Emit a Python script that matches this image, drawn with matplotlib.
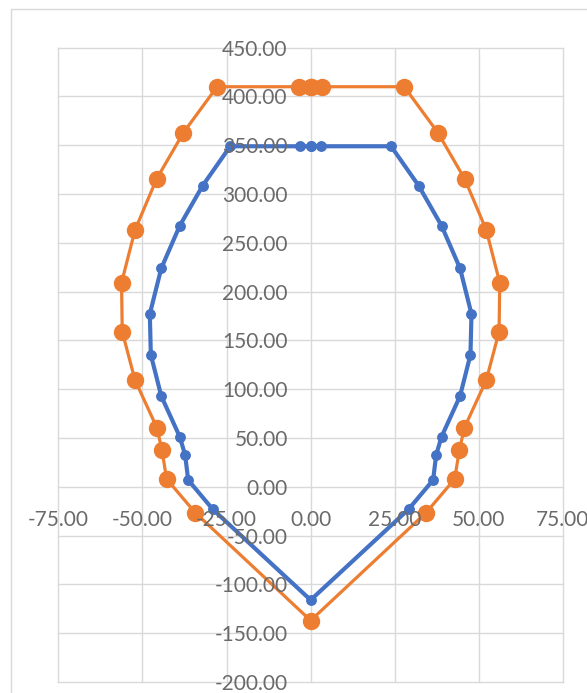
import matplotlib
matplotlib.use("Agg")
import matplotlib.pyplot as plt
from matplotlib.patches import Rectangle

# Interaction-style envelope: two closed outlines (inner and outer)
inner_x = [0.0, 3.2, 23.9, 32.1, 38.9, 44.4, 47.8, 47.5, 44.4, 38.9, 37.3, 36.4, 29.1,
           0.0, -29.1, -36.4, -37.3, -38.9, -44.4, -47.5, -47.8, -44.4, -38.9, -32.1,
           -23.9, -3.2, 0.0]
inner_y = [349.0, 349.0, 349.0, 308.6, 267.6, 223.9, 177.1, 135.4, 93.0, 51.3, 32.6, 7.0,
           -23.0, -116.0, -23.0, 7.0, 32.6, 51.3, 93.0, 135.4, 177.1, 223.9, 267.6, 308.6,
           349.0, 349.0, 349.0]

outer_x = [0.0, 3.5, 27.8, 37.8, 45.8, 52.2, 56.2, 56.0, 52.2, 45.7, 44.2, 42.8, 34.3,
           0.0, -34.3, -42.8, -44.2, -45.7, -52.2, -56.0, -56.2, -52.2, -45.8, -37.8,
           -27.8, -3.5, 0.0]
outer_y = [410.0, 410.0, 410.0, 363.0, 315.4, 263.2, 209.2, 159.0, 109.4, 60.6, 37.7, 8.0,
           -26.5, -137.0, -26.5, 8.0, 37.7, 60.6, 109.4, 159.0, 209.2, 263.2, 315.4, 363.0,
           410.0, 410.0, 410.0]

x_ticks = [-75, -50, -25, 0, 25, 50, 75]
y_ticks = [-200, -150, -100, -50, 0, 50, 100, 150, 200, 250, 300, 350, 400, 450]

BLUE = "#4472C4"
ORANGE = "#ED7D31"
GRID = "#D9D9D9"
TEXT = "#6A6A6A"

plt.rcParams["font.family"] = ["Lato", "DejaVu Sans"]

W, H = 587, 693
fig = plt.figure(figsize=(W / 100, H / 100), dpi=100)
fig.patch.set_facecolor("white")

# chart-area frame
fig.add_artist(Rectangle((10.7 / W, -0.1), 1.2, 1.1 - 9.3 / H,
                         transform=fig.transFigure, fill=False,
                         edgecolor=GRID, linewidth=1.0))

left, right = 58.3 / W, 563.0 / W
top, bottom = 1 - 47.7 / H, 1 - 682.0 / H
ax = fig.add_axes([left, bottom, right - left, top - bottom])

ax.set_xlim(-75, 75)
ax.set_ylim(-200, 450)

# gridlines drawn beneath the data
for xv in x_ticks:
    ax.axvline(xv, color=GRID, linewidth=1.0, zorder=0.5, clip_on=False)
for yv in y_ticks:
    ax.axhline(yv, color=GRID, linewidth=1.0, zorder=0.5, clip_on=False)

ax.plot(inner_x, inner_y, color=BLUE, linewidth=3.0, marker="o",
        markersize=6.8, solid_joinstyle="round", zorder=3, clip_on=False)
ax.plot(outer_x, outer_y, color=ORANGE, linewidth=2.3, marker="o",
        markersize=11.5, solid_joinstyle="round", zorder=4, clip_on=False)

ax.set_xticks(x_ticks)
ax.set_yticks(y_ticks)
ax.set_xticklabels([f"{v:.2f}" for v in x_ticks])
ax.set_yticklabels([f"{v:.2f}" for v in y_ticks])

for s in ax.spines.values():
    s.set_visible(False)
ax.spines["left"].set_position("zero")
ax.spines["bottom"].set_position("zero")

ax.tick_params(axis="both", length=0, labelsize=15, labelcolor=TEXT)
ax.tick_params(axis="y", pad=16.5)
ax.tick_params(axis="x", pad=17)

# tick labels sit above the plotted outlines
ax.xaxis.set_zorder(6)
ax.yaxis.set_zorder(6)

fig.savefig("out.png", dpi=100, facecolor="white")
